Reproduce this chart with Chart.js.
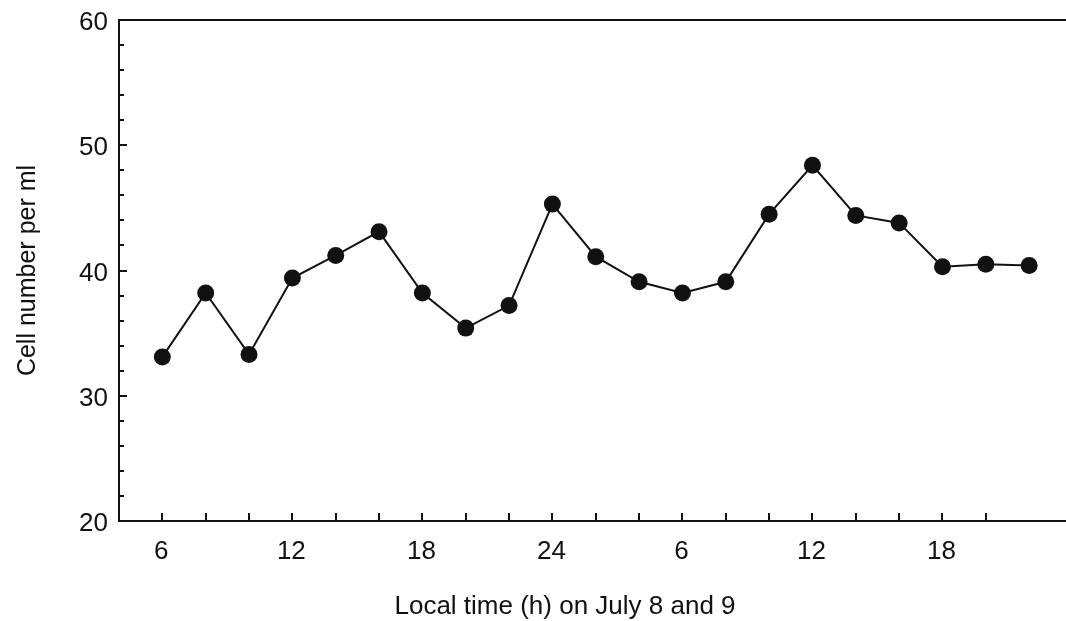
<!DOCTYPE html>
<html>
<head>
<meta charset="utf-8">
<title>Cell number per ml</title>
<script src="https://cdn.jsdelivr.net/npm/chart.js@4"></script>
<style>
  html, body { margin: 0; padding: 0; background: #fff; }
  #plot { display: block; }
</style>
</head>
<body>
<canvas id="plot" width="1066" height="621"></canvas>
<script>
// Sampling hours, counted continuously from 0 h on July 8
const hours = [6, 8, 10, 12, 14, 16, 18, 20, 22, 24, 26, 28, 30, 32, 34, 36, 38, 40, 42, 44, 46];
// Cell counts per ml at each sampling hour
const cells = [33.1, 38.2, 33.3, 39.4, 41.2, 43.1, 38.2, 35.4, 37.2, 45.3, 41.1,
               39.1, 38.2, 39.1, 44.5, 48.4, 44.4, 43.8, 40.3, 40.5, 40.4];
// Labelled hour ticks and the clock-time text shown under them
const hourTicks  = [6, 12, 18, 24, 30, 36, 42];
const hourLabels = ['6', '12', '18', '24', '6', '12', '18'];
// Labelled count ticks
const countTicks = [20, 30, 40, 50, 60];

const INK = '#111';
const FONT = "'Liberation Sans', Arial, Helvetica, sans-serif";

// Inward tick marks plus the top frame line
const frameTicks = {
  id: 'frameTicks',
  beforeDatasetsDraw(chart) {
    const { ctx, chartArea: a, scales: { x, y } } = chart;
    ctx.save();
    ctx.strokeStyle = INK;
    ctx.lineWidth = 2;
    ctx.beginPath();
    ctx.moveTo(a.left - 1, a.top);
    ctx.lineTo(a.right, a.top);
    x.ticks.forEach(t => {
      if (t.value > x.min && t.value < x.max && t.value % 2 === 0) {
        const px = Math.round(x.getPixelForValue(t.value));
        ctx.moveTo(px, a.bottom);
        ctx.lineTo(px, a.bottom - 8);
      }
    });
    y.ticks.forEach(t => {
      if (t.value > y.min && t.value < y.max) {
        const py = Math.round(y.getPixelForValue(t.value));
        const len = countTicks.includes(t.value) ? 8 : 5;
        ctx.moveTo(a.left, py);
        ctx.lineTo(a.left + len, py);
      }
    });
    ctx.stroke();
    ctx.restore();
  }
};

// Keep the plot frame fixed: no extra room reserved for edge labels
function noEdgePadding(scale) {
  scale.paddingTop = 0;
  scale.paddingBottom = 0;
  scale.paddingLeft = 0;
  scale.paddingRight = 0;
}

new Chart(document.getElementById('plot'), {
  type: 'line',
  data: {
    datasets: [{
      data: hours.map((h, i) => ({ x: h, y: cells[i] })),
      borderColor: INK,
      borderWidth: 2,
      pointRadius: 8.5,
      pointBackgroundColor: INK,
      pointBorderWidth: 0,
      tension: 0
    }]
  },
  options: {
    responsive: false,
    animation: false,
    devicePixelRatio: 1,
    layout: { autoPadding: false, padding: { top: 20, left: 64, right: 0, bottom: 0 } },
    plugins: {
      legend: { display: false },
      tooltip: { enabled: false },
      title: {
        display: true,
        position: 'bottom',
        text: 'Local time (h) on July 8 and 9',
        color: INK,
        font: { family: FONT, size: 26, weight: 'normal', lineHeight: 1.1 },
        padding: { top: 10, bottom: 0 }
      }
    },
    scales: {
      x: {
        type: 'linear',
        min: 4,
        max: 47.7,
        grid: { display: false, drawTicks: false },
        border: { display: true, color: INK, width: 2 },
        afterFit(scale) { scale.height = 61.4; noEdgePadding(scale); },
        ticks: {
          stepSize: 2,
          autoSkip: false,
          maxRotation: 0,
          padding: 15,
          labelOffset: -1,
          color: INK,
          font: { family: FONT, size: 26 },
          callback(v) {
            const i = hourTicks.indexOf(v);
            return i >= 0 ? hourLabels[i] : '';
          }
        }
      },
      y: {
        min: 20,
        max: 60,
        grid: { display: false, drawTicks: false },
        border: { display: true, color: INK, width: 2 },
        afterFit(scale) { scale.width = 55; noEdgePadding(scale); },
        title: {
          display: true,
          text: 'Cell number per ml',
          color: INK,
          font: { family: FONT, size: 25 },
          padding: { top: -51, bottom: 0 }
        },
        ticks: {
          stepSize: 2,
          autoSkip: false,
          padding: 11,
          labelOffset: 3,
          color: INK,
          font: { family: FONT, size: 26 },
          callback(v) {
            return countTicks.includes(v) ? String(v) : '';
          }
        }
      }
    }
  },
  plugins: [frameTicks]
});
</script>
</body>
</html>
